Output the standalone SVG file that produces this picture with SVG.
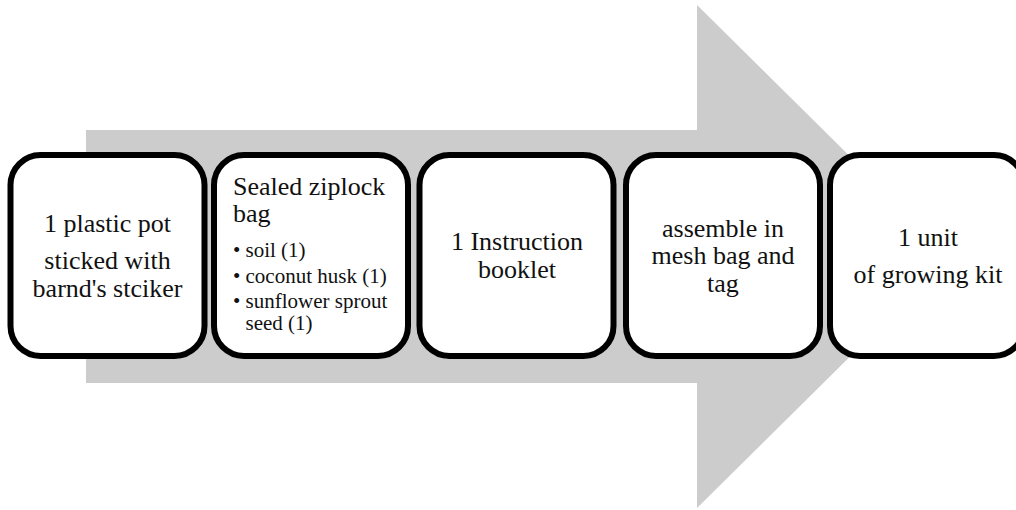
<svg xmlns="http://www.w3.org/2000/svg" width="1016" height="510" viewBox="0 0 1016 510">
  <style>
    .box { fill: #ffffff; stroke: #000000; stroke-width: 6; }
    .t { font-family: 'Liberation Serif', 'Times New Roman', 'DejaVu Serif', serif; font-size: 26px; fill: #111111; }
    .c { text-anchor: middle; }
    .b { font-family: 'Liberation Serif', 'Times New Roman', 'DejaVu Serif', serif; font-size: 21px; fill: #111111; }
  </style>
  <rect width="1016" height="510" fill="#ffffff"/>

  <!-- background process arrow -->
  <g id="connectors">
    <polygon points="86,130 697,130 697,5 951,256.5 697,508 697,383 86,383" fill="#cccccc"/>
  </g>

  <g id="step1">
    <rect class="box" x="10.5" y="155" width="194" height="201" rx="30" ry="30"/>
    <text class="t c" x="107.5" y="232" font-family="Liberation Serif, DejaVu Serif, serif">1 plastic pot</text>
    <text class="t c" x="107.5" y="269" font-family="Liberation Serif, DejaVu Serif, serif">sticked with</text>
    <text class="t c" x="107.5" y="297" font-family="Liberation Serif, DejaVu Serif, serif">barnd's stciker</text>
  </g>

  <g id="step2">
    <rect class="box" x="214" y="155" width="194" height="201" rx="30" ry="30"/>
    <text class="t" x="233" y="195">Sealed ziplock</text>
    <text class="t" x="233" y="222">bag</text>
    <text class="b" x="233" y="257">•</text>
    <text class="b" x="245.5" y="257">soil (1)</text>
    <text class="b" x="233" y="283">•</text>
    <text class="b" x="245.5" y="283">coconut husk (1)</text>
    <text class="b" x="233" y="308">•</text>
    <text class="b" x="245.5" y="308">sunflower sprout</text>
    <text class="b" x="245.5" y="330">seed (1)</text>
  </g>

  <g id="step3">
    <rect class="box" x="419.5" y="155" width="194" height="201" rx="30" ry="30"/>
    <text class="t c" x="517" y="250">1 Instruction</text>
    <text class="t c" x="517" y="278">booklet</text>
  </g>

  <g id="step4">
    <rect class="box" x="626" y="155" width="194" height="201" rx="30" ry="30"/>
    <text class="t c" x="723" y="237">assemble in</text>
    <text class="t c" x="723" y="264">mesh bag and</text>
    <text class="t c" x="723" y="292">tag</text>
  </g>

  <g id="step5">
    <rect class="box" x="830" y="155" width="194" height="201" rx="30" ry="30"/>
    <text class="t c" x="928" y="246">1 unit</text>
    <text class="t c" x="928" y="283">of growing kit</text>
  </g>
</svg>
